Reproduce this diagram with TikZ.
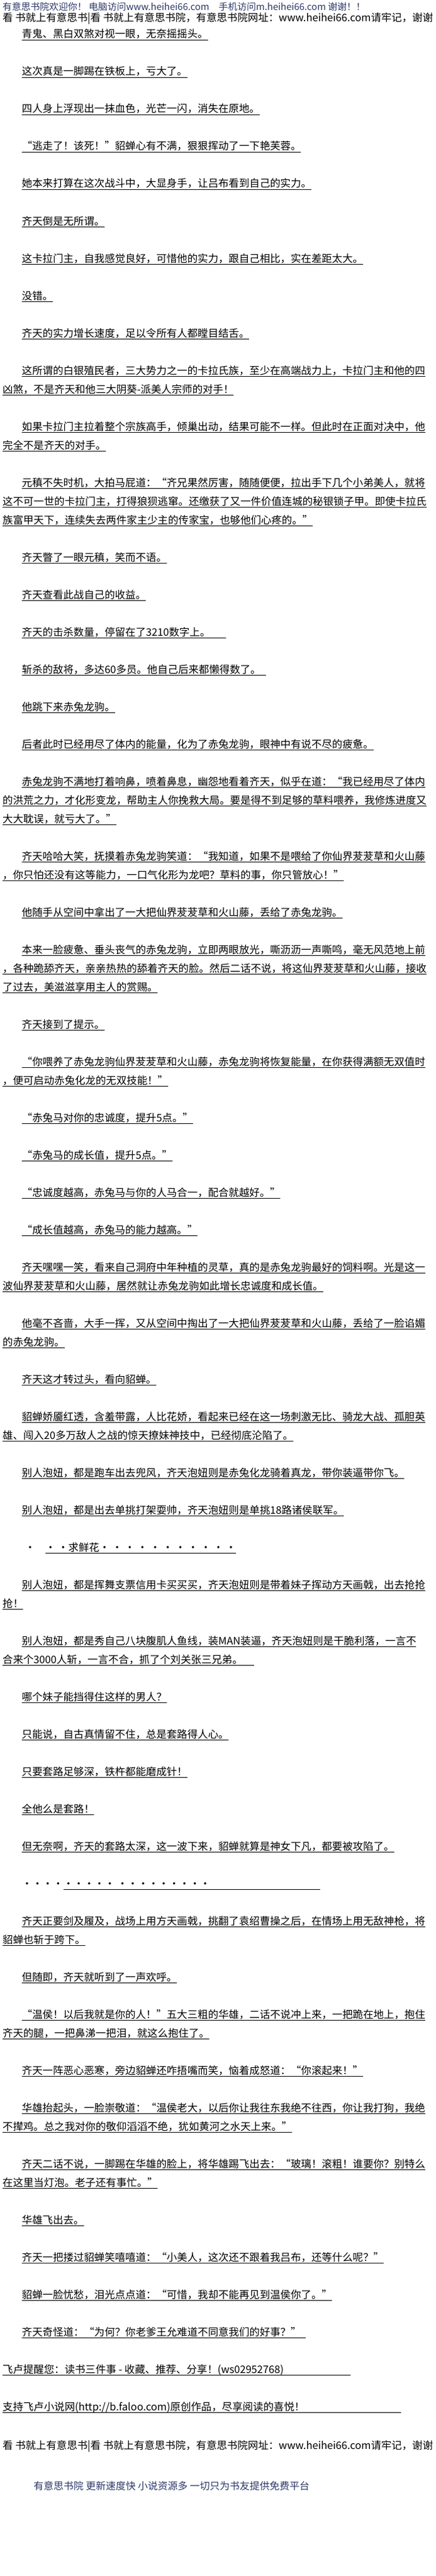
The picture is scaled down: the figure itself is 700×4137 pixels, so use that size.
\documentclass[tikz,border=0pt]{standalone}
\usepackage{fontspec}
\newfontfamily\cjk{Noto Sans CJK SC}
\usetikzlibrary{positioning}
\definecolor{siteblue}{RGB}{44,56,104}
\newcommand\undl[1]{\setbox0=\hbox{#1}\rlap{\rule[-3.6pt]{\wd0}{0.9pt}}\box0}

\begin{document}
\begin{tikzpicture}[
		x=1pt, y=-1pt,
		bodyline/.style={anchor=base west, inner sep=0pt, font=\cjk\fontsize{16.6}{20}\selectfont},
		siteline/.style={bodyline, text=siteblue, font=\cjk\fontsize{15}{18}\selectfont}
	]
		\fill[white] (0,0) rectangle (700,4137);
		\useasboundingbox (0,0) rectangle (700,4137);

		\node[siteline] (head1) at (4,17) {有意思书院欢迎你！ 电脑访问www.heihei66.com\quad 手机访问m.heihei66.com 谢谢！！};
		\node[bodyline] (head2) at (4,35) {看 书就上有意思书|看 书就上有意思书院，有意思书院网址：www.heihei66.com请牢记，谢谢};

		\node[bodyline] (p1) at (35,61) {\undl{青鬼、黑白双煞对视一眼，无奈摇摇头。}};
		\node[bodyline] (p2) at (35,121) {\undl{这次真是一脚踢在铁板上，亏大了。}};
		\node[bodyline] (p3) at (35,181) {\undl{四人身上浮现出一抹血色，光芒一闪，消失在原地。}};
		\node[bodyline] (p4) at (35,241) {\undl{“逃走了！该死！”貂蝉心有不满，狠狠挥动了一下艳芙蓉。}};
		\node[bodyline] (p5) at (35,301) {\undl{她本来打算在这次战斗中，大显身手，让吕布看到自己的实力。}};
		\node[bodyline] (p6) at (35,361) {\undl{齐天倒是无所谓。}};
		\node[bodyline] (p7) at (35,421) {\undl{这卡拉门主，自我感觉良好，可惜他的实力，跟自己相比，实在差距太大。}};
		\node[bodyline] (p8) at (35,481) {\undl{没错。}};
		\node[bodyline] (p9) at (35,541) {\undl{齐天的实力增长速度，足以令所有人都瞠目结舌。}};
		\node[bodyline] (p10a) at (35,601) {\undl{这所谓的白银殖民者，三大势力之一的卡拉氏族，至少在高端战力上，卡拉门主和他的四}};
		\node[bodyline] (p10b) at (4,631) {\undl{凶煞，不是齐天和他三大阴葵-派美人宗师的对手！}};
		\node[bodyline] (p11a) at (35,691) {\undl{如果卡拉门主拉着整个宗族高手，倾巢出动，结果可能不一样。但此时在正面对决中，他}};
		\node[bodyline] (p11b) at (4,721) {\undl{完全不是齐天的对手。}};
		\node[bodyline] (p12a) at (35,781) {\undl{元稹不失时机，大拍马屁道：“齐兄果然厉害，随随便便，拉出手下几个小弟美人，就将}};
		\node[bodyline] (p12b) at (4,811) {\undl{这不可一世的卡拉门主，打得狼狈逃窜。还缴获了又一件价值连城的秘银锁子甲。即使卡拉氏}};
		\node[bodyline] (p12c) at (4,841) {\undl{族富甲天下，连续失去两件家主少主的传家宝，也够他们心疼的。”}};
		\node[bodyline] (p13) at (35,901) {\undl{齐天瞥了一眼元稹，笑而不语。}};
		\node[bodyline] (p14) at (35,961) {\undl{齐天查看此战自己的收益。}};
		\node[bodyline] (p15) at (35,1021) {\undl{齐天的击杀数量，停留在了3210数字上。\hspace{25pt}}};
		\node[bodyline] (p16) at (35,1081) {\undl{斩杀的敌将，多达60多员。他自己后来都懒得数了。\hspace{8pt}}};
		\node[bodyline] (p17) at (35,1141) {\undl{他跳下来赤兔龙驹。}};
		\node[bodyline] (p18) at (35,1201) {\undl{后者此时已经用尽了体内的能量，化为了赤兔龙驹，眼神中有说不尽的疲惫。}};
		\node[bodyline] (p19a) at (35,1261) {\undl{赤兔龙驹不满地打着响鼻，喷着鼻息，幽怨地看着齐天，似乎在道：“我已经用尽了体内}};
		\node[bodyline] (p19b) at (4,1291) {\undl{的洪荒之力，才化形变龙，帮助主人你挽救大局。要是得不到足够的草料喂养，我修炼进度又}};
		\node[bodyline] (p19c) at (4,1321) {\undl{大大耽误，就亏大了。”}};
		\node[bodyline] (p20a) at (35,1381) {\undl{齐天哈哈大笑，抚摸着赤兔龙驹笑道：“我知道，如果不是喂给了你仙界茇茇草和火山藤}};
		\node[bodyline] (p20b) at (4,1411) {\undl{，你只怕还没有这等能力，一口气化形为龙吧？草料的事，你只管放心！”}};
		\node[bodyline] (p21) at (35,1471) {\undl{他随手从空间中拿出了一大把仙界茇茇草和火山藤，丢给了赤兔龙驹。}};
		\node[bodyline] (p22a) at (35,1531) {\undl{本来一脸疲惫、垂头丧气的赤兔龙驹，立即两眼放光，嘶沥沥一声嘶鸣，毫无风范地上前}};
		\node[bodyline] (p22b) at (4,1561) {\undl{，各种跪舔齐天，亲亲热热的舔着齐天的脸。然后二话不说，将这仙界茇茇草和火山藤，接收}};
		\node[bodyline] (p22c) at (4,1591) {\undl{了过去，美滋滋享用主人的赏赐。}};
		\node[bodyline] (p23) at (35,1651) {\undl{齐天接到了提示。}};
		\node[bodyline] (p24a) at (35,1711) {\undl{“你喂养了赤兔龙驹仙界茇茇草和火山藤，赤兔龙驹将恢复能量，在你获得满额无双值时}};
		\node[bodyline] (p24b) at (4,1741) {\undl{，便可启动赤兔化龙的无双技能！”}};
		\node[bodyline] (p25) at (35,1801) {\undl{“赤兔马对你的忠诚度，提升5点。”}};
		\node[bodyline] (p26) at (35,1861) {\undl{“赤兔马的成长值，提升5点。”}};
		\node[bodyline] (p27) at (35,1921) {\undl{“忠诚度越高，赤兔马与你的人马合一，配合就越好。”}};
		\node[bodyline] (p28) at (35,1981) {\undl{“成长值越高，赤兔马的能力越高。”}};
		\node[bodyline] (p29a) at (35,2041) {\undl{齐天嘿嘿一笑，看来自己洞府中年种植的灵草，真的是赤兔龙驹最好的饲料啊。光是这一}};
		\node[bodyline] (p29b) at (4,2071) {\undl{波仙界茇茇草和火山藤，居然就让赤兔龙驹如此增长忠诚度和成长值。}};
		\node[bodyline] (p30a) at (35,2131) {\undl{他毫不吝啬，大手一挥，又从空间中掏出了一大把仙界茇茇草和火山藤，丢给了一脸谄媚}};
		\node[bodyline] (p30b) at (4,2161) {\undl{的赤兔龙驹。}};
		\node[bodyline] (p31) at (35,2221) {\undl{齐天这才转过头，看向貂蝉。}};
		\node[bodyline] (p32a) at (35,2281) {\undl{貂蝉娇靥红透，含羞带露，人比花娇，看起来已经在这一场刺激无比、骑龙大战、孤胆英}};
		\node[bodyline] (p32b) at (4,2311) {\undl{雄、闯入20多万敌人之战的惊天撩妹神技中，已经彻底沦陷了。}};
		\node[bodyline] (p33) at (35,2371) {\undl{别人泡妞，都是跑车出去兜风，齐天泡妞则是赤兔化龙骑着真龙，带你装逼带你飞。}};
		\node[bodyline] (p34) at (35,2431) {\undl{别人泡妞，都是出去单挑打架耍帅，齐天泡妞则是单挑18路诸侯联军。}};
		\node[bodyline] (p35) at (40,2491) {·\hspace{16pt}\undl{· ·求鲜花· · · · · · · · · · ·}};
		\node[bodyline] (p36a) at (35,2551) {\undl{别人泡妞，都是挥舞支票信用卡买买买，齐天泡妞则是带着妹子挥动方天画戟，出去抢抢}};
		\node[bodyline] (p36b) at (4,2581) {\undl{抢！}};
		\node[bodyline] (p37a) at (35,2641) {\undl{别人泡妞，都是秀自己八块腹肌人鱼线，装MAN装逼，齐天泡妞则是干脆利落，一言不}};
		\node[bodyline] (p37b) at (4,2671) {\undl{合来个3000人斩，一言不合，抓了个刘关张三兄弟。\hspace{18pt}}};
		\node[bodyline] (p38) at (35,2731) {\undl{哪个妹子能挡得住这样的男人？}};
		\node[bodyline] (p39) at (35,2791) {\undl{只能说，自古真情留不住，总是套路得人心。}};
		\node[bodyline] (p40) at (35,2851) {\undl{只要套路足够深，铁杵都能磨成针！}};
		\node[bodyline] (p41) at (35,2911) {\undl{全他么是套路！}};
		\node[bodyline] (p42) at (35,2971) {\undl{但无奈啊，齐天的套路太深，这一波下来，貂蝉就算是神女下凡，都要被攻陷了。}};
		\node[bodyline] (p43) at (35,3031) {····\undl{····· ·········\hspace{176pt}}};
		\node[bodyline] (p44a) at (35,3091) {\undl{齐天正要剑及履及，战场上用方天画戟，挑翻了袁绍曹操之后，在情场上用无敌神枪，将}};
		\node[bodyline] (p44b) at (4,3121) {\undl{貂蝉也斩于跨下。}};
		\node[bodyline] (p45) at (35,3181) {\undl{但随即，齐天就听到了一声欢呼。}};
		\node[bodyline] (p46a) at (35,3241) {\undl{“温侯！以后我就是你的人！”五大三粗的华雄，二话不说冲上来，一把跪在地上，抱住}};
		\node[bodyline] (p46b) at (4,3271) {\undl{齐天的腿，一把鼻涕一把泪，就这么抱住了。}};
		\node[bodyline] (p47) at (35,3331) {\undl{齐天一阵恶心恶寒，旁边貂蝉还咋捂嘴而笑，恼着成怒道：“你滚起来！”}};
		\node[bodyline] (p48a) at (35,3391) {\undl{华雄抬起头，一脸崇敬道：“温侯老大，以后你让我往东我绝不往西，你让我打狗，我绝}};
		\node[bodyline] (p48b) at (4,3421) {\undl{不撵鸡。总之我对你的敬仰滔滔不绝，犹如黄河之水天上来。”}};
		\node[bodyline] (p49a) at (35,3481) {\undl{齐天二话不说，一脚踢在华雄的脸上，将华雄踢飞出去：“玻璃！滚粗！谁要你？别特么}};
		\node[bodyline] (p49b) at (4,3511) {\undl{在这里当灯泡。老子还有事忙。”}};
		\node[bodyline] (p50) at (35,3571) {\undl{华雄飞出去。}};
		\node[bodyline] (p51) at (35,3631) {\undl{齐天一把搂过貂蝉笑嘻嘻道：“小美人，这次还不跟着我吕布，还等什么呢？”}};
		\node[bodyline] (p52) at (35,3691) {\undl{貂蝉一脸忧愁，泪光点点道：“可惜，我却不能再见到温侯你了。”}};
		\node[bodyline] (p53) at (35,3751) {\undl{齐天奇怪道：“为何？你老爹王允难道不同意我们的好事？”\hspace{8pt}}};

		\node[bodyline] (ad1) at (4,3811) {\undl{飞卢提醒您：读书三件事 - 收藏、推荐、分享！(ws02952768)\hspace{108pt}}};
		\node[bodyline] (ad2) at (4,3871) {\undl{支持飞卢小说网(http://b.faloo.com)原创作品，尽享阅读的喜悦！\hspace{155pt}}};
		\node[bodyline] (foot1) at (4,3933) {看 书就上有意思书|看 书就上有意思书院，有意思书院网址：www.heihei66.com请牢记，谢谢};
		\node[siteline, font=\cjk\fontsize{16}{19}\selectfont] (foot2) at (54,3998) {有意思书院 更新速度快 小说资源多 一切只为书友提供免费平台};
	\end{tikzpicture}
\end{document}
